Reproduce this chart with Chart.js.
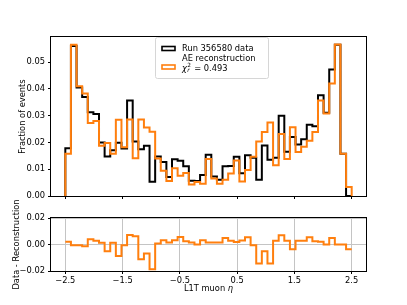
<!DOCTYPE html>
<html>
<head>
<meta charset="utf-8">
<script src="https://cdn.jsdelivr.net/npm/chart.js@4.4.0/dist/chart.umd.min.js"></script>
<style>
  html, body { margin: 0; padding: 0; background: #fff; }
  #wrap { position: relative; width: 407px; height: 305px; overflow: hidden; }
  #top { position: absolute; left: 0; top: 0; width: 407px; height: 205px; }
  #bottom { position: absolute; left: 0; top: 190px; width: 407px; height: 115px; }
</style>
</head>
<body>
<div id="wrap">
  <canvas id="top" width="407" height="205"></canvas>
  <canvas id="bottom" width="407" height="115"></canvas>
</div>
<script>
const ETA_MIN = -2.5
const ETA_MAX = 2.5
const N_BINS = 51

// fraction of events per eta bin
const data_frac = [
  0.0178, 0.0560, 0.0405, 0.0370, 0.0313, 0.0306, 0.0200, 0.0148, 0.0171, 0.0199,
  0.0177, 0.0357, 0.0204, 0.0175, 0.0188, 0.0053, 0.0148, 0.0127, 0.0071, 0.0137,
  0.0132, 0.0111, 0.0057, 0.0056, 0.0078, 0.0154, 0.0073, 0.0061, 0.0111, 0.0112,
  0.0147, 0.0085, 0.0152, 0.0143, 0.0061, 0.0189, 0.0135, 0.0143, 0.0300, 0.0165,
  0.0220, 0.0192, 0.0212, 0.0266, 0.0261, 0.0376, 0.0311, 0.0473, 0.0565, 0.0158,
  0.0000
]

const reco_frac = [
  0.0158, 0.0565, 0.0410, 0.0383, 0.0273, 0.0280, 0.0188, 0.0198, 0.0158, 0.0285,
  0.0182, 0.0286, 0.0141, 0.0286, 0.0256, 0.0240, 0.0140, 0.0094, 0.0056, 0.0104,
  0.0076, 0.0086, 0.0043, 0.0052, 0.0046, 0.0138, 0.0065, 0.0046, 0.0061, 0.0084,
  0.0133, 0.0054, 0.0097, 0.0147, 0.0204, 0.0239, 0.0275, 0.0115, 0.0232, 0.0138,
  0.0257, 0.0164, 0.0184, 0.0206, 0.0239, 0.0357, 0.0308, 0.0420, 0.0566, 0.0158,
  0.0034
]

// data - reconstruction
const diff_frac = [
  0.0020, -0.0005, -0.0005, -0.0013, 0.0040, 0.0028, 0.0013, -0.0050, 0.0013, -0.0086,
  -0.0005, 0.0071, 0.0063, -0.0111, -0.0068, -0.0187, 0.0008, 0.0033, 0.0015, 0.0033,
  0.0056, 0.0025, 0.0015, 0.0000, 0.0033, 0.0015, 0.0015, 0.0015, 0.0050, 0.0028,
  0.0018, 0.0030, 0.0055, -0.0005, -0.0144, -0.0050, -0.0144, 0.0028, 0.0070, 0.0028,
  -0.0035, 0.0028, 0.0028, 0.0055, 0.0025, 0.0020, 0.0000, 0.0050, 0.0000, 0.0000,
  -0.0035
]

const xTicks = [-2.5, -1.5, -0.5, 0.5, 1.5, 2.5]
const yTicksTop = [0, 0.01, 0.02, 0.03, 0.04, 0.05]
const yTicksBottom = [-0.02, 0, 0.02]

const legendLabels = ['Run 356580 data', 'AE reconstruction']
const chi2Value = '0.493'

const ORANGE = '#ff7f0e'
const FONT = "'DejaVu Sans'"
const FS = 8.3

Chart.defaults.font.family = FONT
Chart.defaults.font.size = FS
Chart.defaults.color = '#000'

const binWidth = (ETA_MAX - ETA_MIN) / N_BINS
const edges = []
for (let i = 0; i <= N_BINS; i++) edges.push(ETA_MIN + i * binWidth)

// outline of a histogram, like histtype='step'
const histPoints = (values, closed) => {
  let pts = []
  if (closed) pts.push({x: edges[0], y: 0})
  values.forEach((v, i) => pts.push({x: edges[i], y: v}))
  pts.push({x: edges[N_BINS], y: closed ? 0 : values[values.length - 1]})
  return pts
}

const minus = (v, d) => (v < -1e-9 ? '\u2212' : '') + Math.abs(v).toFixed(d)

const framePlugin = {
  id: 'frame',
  afterDraw(chart) {
    const {ctx, chartArea: a} = chart
    ctx.save()
    ctx.strokeStyle = '#000'
    ctx.lineWidth = 1
    ctx.strokeRect(a.left - 0.5, a.top - 0.5, a.right - a.left + 1, a.bottom - a.top + 1)
    ctx.restore()
  }
}

const legendPlugin = {
  id: 'histLegend',
  afterDraw(chart) {
    const ctx = chart.ctx
    ctx.save()
    // frame
    const bx = 155.5, by = 37.5, bw = 113, bh = 41, r = 2
    ctx.beginPath()
    ctx.moveTo(bx + r, by)
    ctx.arcTo(bx + bw, by, bx + bw, by + bh, r)
    ctx.arcTo(bx + bw, by + bh, bx, by + bh, r)
    ctx.arcTo(bx, by + bh, bx, by, r)
    ctx.arcTo(bx, by, bx + bw, by, r)
    ctx.closePath()
    ctx.fillStyle = 'rgba(255,255,255,0.8)'
    ctx.fill()
    ctx.strokeStyle = '#d6d6d6'
    ctx.lineWidth = 1
    ctx.stroke()

    // handles
    ctx.lineWidth = 1.6
    ctx.strokeStyle = '#000'
    ctx.strokeRect(162, 46.5, 13, 4)
    ctx.strokeStyle = ORANGE
    ctx.strokeRect(162, 65, 13, 4)

    // labels
    ctx.fillStyle = '#000'
    ctx.textBaseline = 'middle'
    ctx.textAlign = 'left'
    ctx.font = `${FS}px ${FONT}`
    ctx.fillText(legendLabels[0], 182, 48.5)
    ctx.fillText(legendLabels[1], 182, 59)

    let x = 182
    const y = 68.5
    ctx.font = `italic ${FS}px ${FONT}`
    ctx.fillText('\u03c7', x, y)
    x += ctx.measureText('\u03c7').width
    ctx.font = `${FS * 0.7}px ${FONT}`
    ctx.fillText('2', x + 0.3, y - 3)
    ctx.font = `italic ${FS * 0.7}px ${FONT}`
    ctx.fillText('r', x + 0.3, y + 2.2)
    x += ctx.measureText('2').width + 1
    ctx.font = `${FS}px ${FONT}`
    ctx.fillText(' = ' + chi2Value, x, y)
    ctx.restore()
  }
}

const titlePlugin = (opts) => ({
  id: 'axisTitles',
  afterDraw(chart) {
    const ctx = chart.ctx
    ctx.save()
    ctx.fillStyle = '#000'
    ctx.font = `${FS}px ${FONT}`
    ctx.textAlign = 'center'
    ctx.textBaseline = 'middle'
    ctx.translate(opts.yx, opts.yy)
    ctx.rotate(-Math.PI / 2)
    ctx.fillText(opts.ytext, 0, 0)
    ctx.restore()
    if (opts.xtext) {
      ctx.save()
      ctx.fillStyle = '#000'
      ctx.textBaseline = 'middle'
      ctx.textAlign = 'left'
      ctx.font = `${FS}px ${FONT}`
      const w1 = ctx.measureText(opts.xtext).width
      ctx.font = `italic ${FS}px ${FONT}`
      const w2 = ctx.measureText('\u03b7').width
      let x = opts.xx - (w1 + w2) / 2
      ctx.font = `${FS}px ${FONT}`
      ctx.fillText(opts.xtext, x, opts.xy)
      ctx.font = `italic ${FS}px ${FONT}`
      ctx.fillText('\u03b7', x + w1, opts.xy)
      ctx.restore()
    }
  }
})

const xScale = (showLabels, height, gridOn) => ({
  type: 'linear',
  min: -2.75,
  max: 2.75,
  afterBuildTicks: s => { s.ticks = xTicks.map(v => ({value: v})) },
  ticks: { display: showLabels, autoSkip: false, maxRotation: 0, padding: 2, callback: v => minus(v, 1) },
  grid: { drawOnChartArea: gridOn, color: '#c4c4c4', lineWidth: 1, tickLength: 3, tickColor: '#000' },
  border: { display: false },
  afterFit: s => { s.height = height }
})

const yScale = (min, max, ticks, gridOn) => ({
  min: min,
  max: max,
  afterBuildTicks: s => { s.ticks = ticks.map(v => ({value: v})) },
  ticks: { autoSkip: false, padding: 3, callback: v => minus(v, 2) },
  grid: { drawOnChartArea: gridOn, color: '#c4c4c4', lineWidth: 1, tickLength: 3, tickColor: '#000' },
  border: { display: false },
  afterFit: s => { s.width = 51 }
})

const topChart = new Chart(document.getElementById('top'), {
  type: 'line',
  data: {
    datasets: [
      { label: legendLabels[1], data: histPoints(reco_frac, true), borderColor: ORANGE, borderWidth: 2, stepped: 'before', order: 0 },
      { label: legendLabels[0], data: histPoints(data_frac, true), borderColor: '#000', borderWidth: 2, stepped: 'before', order: 1 }
    ]
  },
  options: {
    responsive: false,
    animation: false,
    layout: { padding: { left: 0, right: 41, top: 37, bottom: 0 } },
    elements: { point: { radius: 0 }, line: { fill: false, tension: 0, borderJoinStyle: 'miter' } },
    plugins: { legend: { display: false }, tooltip: { enabled: false } },
    scales: {
      x: xScale(false, 9, false),
      y: yScale(0, 0.0594, yTicksTop, false)
    }
  },
  plugins: [framePlugin, legendPlugin, titlePlugin({ ytext: 'Fraction of events', yx: 22.5, yy: 116.5 })]
})

const bottomChart = new Chart(document.getElementById('bottom'), {
  type: 'line',
  data: {
    datasets: [
      { label: 'Data - Reconstruction', data: histPoints(diff_frac, false), borderColor: ORANGE, borderWidth: 2, stepped: 'before' }
    ]
  },
  options: {
    responsive: false,
    animation: false,
    layout: { padding: { left: 0, right: 41, top: 28, bottom: 0 } },
    elements: { point: { radius: 0 }, line: { fill: false, tension: 0, borderJoinStyle: 'miter' } },
    plugins: { legend: { display: false }, tooltip: { enabled: false } },
    scales: {
      x: xScale(true, 34, true),
      y: yScale(-0.02, 0.02, yTicksBottom, true)
    }
  },
  plugins: [framePlugin, titlePlugin({ ytext: 'Data - Reconstruction', yx: 16.5, yy: 54.5, xtext: 'L1T muon ', xx: 208.5, xy: 99 })]
})
</script>
</body>
</html>
